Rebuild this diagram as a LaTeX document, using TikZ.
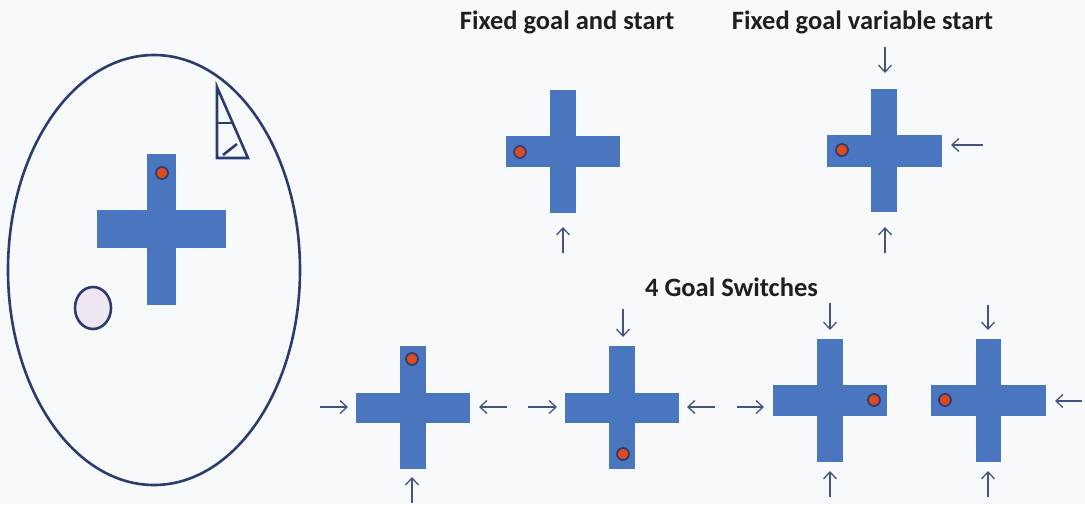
\documentclass[tikz,border=0pt]{standalone}
\usepackage{fontspec}
\setmainfont{Carlito}
\usetikzlibrary{arrows.meta}
\definecolor{bg}{HTML}{F8F9FB}
\definecolor{crossblue}{HTML}{4A76C0}
\definecolor{navy}{HTML}{2A3C70}
\definecolor{dotred}{HTML}{DD4A1C}
\definecolor{lav}{HTML}{EEE6F0}
\definecolor{arrowcol}{HTML}{44547F}
\newcommand\plusat[6]{% cx, cy, horiz half-length, vert half-length, vert half-width, horiz half-height
  \fill[crossblue] (#1-#3,#2-#6) rectangle (#1+#3,#2+#6);
  \fill[crossblue] (#1-#5,#2-#4) rectangle (#1+#5,#2+#4);}
\tikzset{
  goal/.style={fill=dotred, draw=navy, line width=1.7pt},
  entry/.style={draw=arrowcol, line width=1.3pt, -{Straight Barb[length=7pt,width=13pt]}},
  title/.style={font=\bfseries\fontsize{26.5}{30}\selectfont, text=black!88, inner sep=0pt, anchor=base},
  outline/.style={draw=navy, line width=2.6pt}
}
\begin{document}
\begin{tikzpicture}[x=1pt,y=-1pt]
\fill[bg] (0,0) rectangle (1085,504);
\useasboundingbox (0,0) rectangle (1085,504);
% left arena
\draw[outline] (154,270) ellipse [x radius=146, y radius=215];
\plusat{161.5}{229}{64.5}{75.5}{14.5}{19}
\fill[goal] (162,173) circle (6pt);
\draw[outline, fill=lav] (93,308) ellipse [x radius=18, y radius=21];
\draw[outline, line join=miter] (217,87) -- (217,158) -- (248,158) -- cycle;
\draw[outline] (217,123) -- (233,123);
\draw[outline] (223,155) -- (237,144);
% titles
\node[title] (t1) at (567,29) {Fixed goal and start};
\node[title] (t2) at (862.5,29) {Fixed goal variable start};
\node[title] (t3) at (731.5,296) {4 Goal Switches};
% fixed goal and start
\plusat{563}{151.5}{57}{61.5}{13}{15.5}
\fill[goal] (520,152) circle (6pt);
\coordinate (a1s) at (563,253); \coordinate (a1e) at (563,227);
\draw[entry] (a1s) -- (a1e);
% fixed goal variable start
\plusat{884}{150.5}{57.5}{61.5}{13}{16}
\fill[goal] (842,150) circle (6pt);
\coordinate (b1s) at (885,47); \coordinate (b1e) at (885,73);
\draw[entry] (b1s) -- (b1e);
\coordinate (b2s) at (983,145); \coordinate (b2e) at (951,145);
\draw[entry] (b2s) -- (b2e);
\coordinate (b3s) at (885,253); \coordinate (b3e) at (885,227);
\draw[entry] (b3s) -- (b3e);
% goal switch 1
\plusat{413}{407.5}{57}{61.5}{13}{15}
\fill[goal] (412,359) circle (6pt);
\coordinate (c1s) at (320,407); \coordinate (c1e) at (348,407);
\draw[entry] (c1s) -- (c1e);
\coordinate (c2s) at (507,407); \coordinate (c2e) at (479,407);
\draw[entry] (c2s) -- (c2e);
\coordinate (c3s) at (412,503); \coordinate (c3e) at (412,477);
\draw[entry] (c3s) -- (c3e);
% goal switch 2
\plusat{622}{407.5}{57}{61.5}{13}{15}
\fill[goal] (623,454) circle (6pt);
\coordinate (d1s) at (623,309); \coordinate (d1e) at (623,337);
\draw[entry] (d1s) -- (d1e);
\coordinate (d2s) at (528,407); \coordinate (d2e) at (557,407);
\draw[entry] (d2s) -- (d2e);
\coordinate (d3s) at (715,407); \coordinate (d3e) at (687,407);
\draw[entry] (d3s) -- (d3e);
% goal switch 3
\plusat{830}{400.5}{57}{61.5}{13}{15.5}
\fill[goal] (874,400) circle (6pt);
\coordinate (e1s) at (830,303); \coordinate (e1e) at (830,330);
\draw[entry] (e1s) -- (e1e);
\coordinate (e2s) at (737,407); \coordinate (e2e) at (764,407);
\draw[entry] (e2s) -- (e2e);
\coordinate (e3s) at (830,497); \coordinate (e3e) at (830,471);
\draw[entry] (e3s) -- (e3e);
% goal switch 4
\plusat{988.5}{400.5}{57.5}{61.5}{12.5}{15.5}
\fill[goal] (945,400) circle (6pt);
\coordinate (f1s) at (988,305); \coordinate (f1e) at (988,330);
\draw[entry] (f1s) -- (f1e);
\coordinate (f2s) at (1082,401); \coordinate (f2e) at (1055,401);
\draw[entry] (f2s) -- (f2e);
\coordinate (f3s) at (988,497); \coordinate (f3e) at (988,471);
\draw[entry] (f3s) -- (f3e);
\end{tikzpicture}
\end{document}
